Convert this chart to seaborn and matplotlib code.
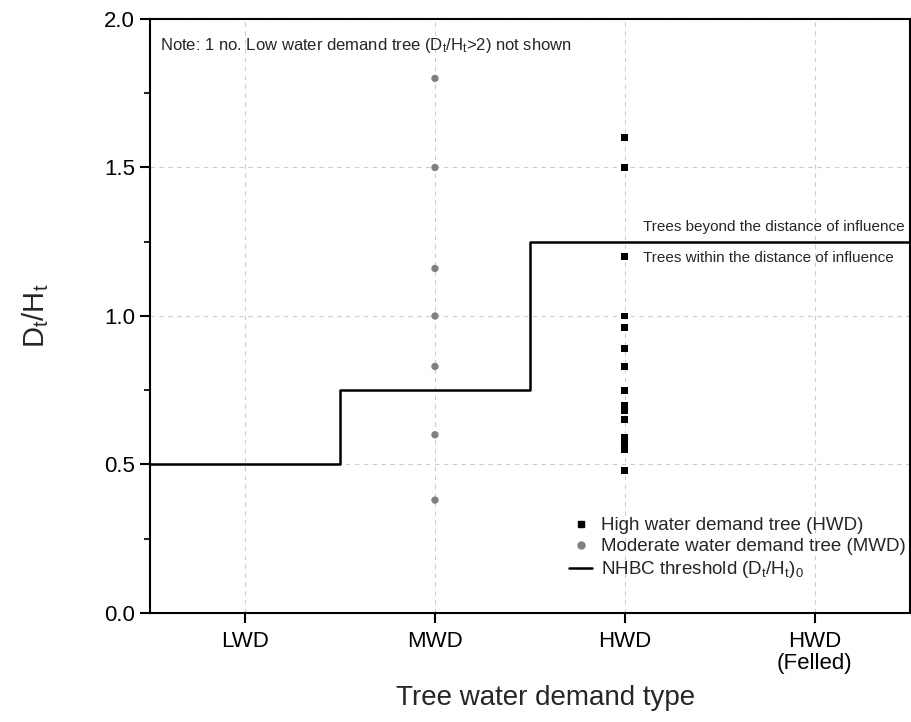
"""Tree water demand type vs D_t/H_t with NHBC threshold"""

import pandas as pd
import seaborn as sns
import matplotlib.pyplot as plt
from matplotlib.ticker import MultipleLocator
from matplotlib.lines import Line2D

CATEGORIES = ["LWD", "MWD", "HWD", "HWD\n(Felled)"]
MWD_VALUES = [1.8, 1.5, 1.16, 1.0, 0.83, 0.6, 0.38]
HWD_VALUES = [1.6, 1.5, 1.2, 1.0, 0.96, 0.89, 0.83, 0.75, 0.70, 0.68,
              0.65, 0.59, 0.57, 0.55, 0.48]
STEP_X = [-0.5, 0.5, 1.5, 3.5]
STEP_Y = [0.5, 0.75, 1.25, 1.25]

sns.set_style("ticks")
plt.rcParams["font.family"] = ["Liberation Sans", "DejaVu Sans"]
plt.rcParams["mathtext.fontset"] = "custom"
plt.rcParams["mathtext.rm"] = "Liberation Sans"
plt.rcParams["mathtext.it"] = "Liberation Sans"
plt.rcParams["mathtext.default"] = "regular"

mwd = pd.DataFrame({"x": CATEGORIES.index("MWD"), "y": MWD_VALUES})
hwd = pd.DataFrame({"x": CATEGORIES.index("HWD"), "y": HWD_VALUES})
step = pd.DataFrame({"x": STEP_X, "y": STEP_Y})

fig = plt.figure(figsize=(9.11, 7.22), dpi=100)
ax = fig.add_axes([0.1647, 0.151, 0.834, 0.8227])

ax.grid(True, which="major", ls=(0, (4, 4)), color="#cccccc", lw=0.8)
ax.set_axisbelow(True)

sns.lineplot(data=step, x="x", y="y", ax=ax, color="black", lw=1.8,
             drawstyle="steps-post", estimator=None, sort=False)
sns.scatterplot(data=hwd, x="x", y="y", ax=ax, marker="s", color="black",
                s=25, edgecolor="none", zorder=3)
sns.scatterplot(data=mwd, x="x", y="y", ax=ax, marker="o", color="#808080",
                s=28, edgecolor="none", zorder=3)

# axes cosmetics
ax.set_xlim(-0.5, 3.5)
ax.set_ylim(0, 2.0)
ax.set_xticks(range(len(CATEGORIES)))
ax.set_xticklabels(CATEGORIES, fontsize=16, linespacing=1.05)
ax.yaxis.set_major_locator(MultipleLocator(0.5))
ax.yaxis.set_minor_locator(MultipleLocator(0.25))
ax.yaxis.set_major_formatter(lambda v, p: f"{v:.1f}")
ax.tick_params(axis="both", which="major", direction="out", length=7,
               width=1.5, colors="black", pad=4)
ax.tick_params(axis="x", which="major", labelsize=16, pad=6)
ax.tick_params(axis="y", which="major", labelsize=16)
ax.tick_params(axis="y", which="minor", direction="out", length=4, width=1.5)
for sp in ax.spines.values():
    sp.set_linewidth(1.5)
    sp.set_color("black")

ax.set_xlabel("Tree water demand type", fontsize=20)
ax.xaxis.set_label_coords(0.52, -0.122)
ax.set_ylabel("D$_t$/H$_t$", fontsize=21)
ax.yaxis.set_label_coords(-0.13, 0.5)

ax.text(0.013, 0.955, "Note: 1 no. Low water demand tree (D$_t$/H$_t$>2) not shown",
        transform=ax.transAxes, fontsize=12, va="center", ha="left")
ax.text(2.095, 1.30, "Trees beyond the distance of influence", fontsize=11,
        va="center", ha="left")
ax.text(2.095, 1.195, "Trees within the distance of influence", fontsize=11,
        va="center", ha="left")

handles = [
    Line2D([0], [0], ls="none", marker="s", color="black", ms=5),
    Line2D([0], [0], ls="none", marker="o", color="#808080", ms=5),
    Line2D([0], [0], color="black", lw=1.8),
]
labels = ["High water demand tree (HWD)", "Moderate water demand tree (MWD)",
          "NHBC threshold (D$_t$/H$_t$)$_0$"]
ax.legend(handles=handles, labels=labels, loc="upper right", frameon=False,
          fontsize=13.5, handlelength=1.2, handletextpad=0.5,
          labelspacing=0.22, borderpad=0.2, borderaxespad=0,
          bbox_to_anchor=(1.0, 0.168))

plt.savefig("out.png", dpi=100)
plt.close()
